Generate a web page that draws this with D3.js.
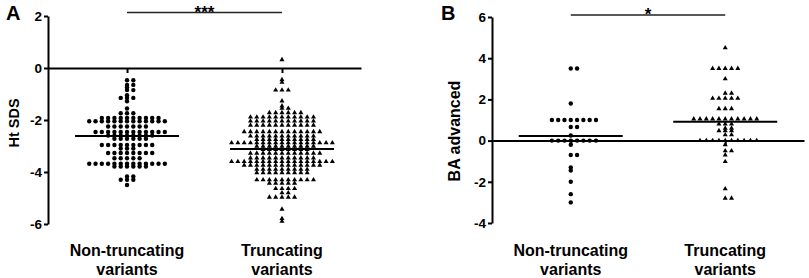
<!DOCTYPE html>
<html>
<head>
<meta charset="utf-8">
<script src="https://cdn.jsdelivr.net/npm/d3@7"></script>
<style>
  body { margin: 0; background: #fff; }
  svg text { font-family: Arial, "Liberation Sans", sans-serif; font-weight: bold; fill: #000; }
</style>
</head>
<body>
<div id="vis"></div>
<script>
const layout = {
    width: 809,
    height: 278,
    dotStep: 6.3,
    dotRadius: 2.2,
    triSize: 11,
    meanHalf: 52,
    labelY1: 256,
    labelY2: 275
};

// categories and tick labels
const categories = ["Non-truncating", "Truncating"];
const categoryLines = [["Non-truncating", "variants"], ["Truncating", "variants"]];
const htTicks = [2, 0, -2, -4, -6];
const baTicks = [6, 4, 2, 0, -2, -4];

// dot rows: [value, number of dots in that row]
const htNonTruncRows = [
    [-0.47, 2], [-0.65, 2], [-0.75, 1], [-0.85, 2], [-1.05, 1], [-1.15, 3], [-1.28, 1],
    [-1.56, 1], [-1.74, 3], [-1.92, 10], [-2.05, 13], [-2.25, 7], [-2.46, 12], [-2.6, 8],
    [-2.72, 6], [-2.96, 9], [-3.1, 3], [-3.27, 8], [-3.47, 5], [-3.68, 13], [-3.79, 6],
    [-4.17, 2], [-4.3, 3], [-4.5, 1]
];
const htTruncRows = [
    [0.32, 1], [-0.45, 1], [-0.55, 1], [-0.85, 3], [-1.27, 1], [-1.46, 1], [-1.55, 2],
    [-1.72, 6], [-1.89, 11], [-2.04, 11], [-2.2, 11], [-2.45, 13], [-2.62, 11], [-2.75, 10],
    [-2.88, 17], [-3.01, 10], [-3.14, 8], [-3.28, 12], [-3.46, 11], [-3.6, 17], [-3.74, 13],
    [-3.9, 9], [-4.03, 9], [-4.3, 10], [-4.43, 5], [-4.64, 4], [-4.8, 2], [-4.97, 5],
    [-5.43, 1], [-5.79, 1], [-5.9, 1]
];
const baNonTruncRows = [
    [3.5, 2], [1.8, 1], [1.0, 8], [0.66, 2], [0.25, 1], [0, 8], [-0.2, 1], [-0.7, 2],
    [-1.3, 1], [-1.45, 1], [-2.0, 1], [-2.6, 1], [-3.0, 1]
];
const baTruncRows = [
    [4.5, 1], [3.5, 5], [3.0, 1], [2.3, 2], [2.05, 5], [1.55, 3], [1.05, 11], [0.8, 3],
    [0.6, 2], [0.48, 3], [0.28, 2], [0, 10], [-0.2, 1], [-0.5, 2], [-0.7, 1], [-1.02, 1],
    [-2.34, 1], [-2.8, 2]
];
const htMeans = [-2.62, -3.12];
const baMeans = [0.22, 0.92];
const sigLabels = ["***", "*"];

const panels = [
    { letter: "A", letterX: 6, axisX: 48, right: 361, yTop: 16, yBottom: 224, domain: [-6, 2],
      ticks: htTicks, yLabel: "Ht SDS", yLabelX: 18.5, yLabelY: 123, yLabelSize: 14.5,
      rows: [htNonTruncRows, htTruncRows], means: htMeans, sig: sigLabels[0], sigY: 12.5 },
    { letter: "B", letterX: 441, axisX: 492, right: 804, yTop: 17, yBottom: 223, domain: [-4, 6],
      ticks: baTicks, yLabel: "BA advanced", yLabelX: 460, yLabelY: 131, yLabelSize: 16,
      rows: [baNonTruncRows, baTruncRows], means: baMeans, sig: sigLabels[1], sigY: 15 }
];

let svg = d3.select("#vis").append("svg")
    .attr("width", layout.width)
    .attr("height", layout.height)
    .attr("viewBox", [0, 0, layout.width, layout.height].join(" "));

// 0, +1, -1, +2, -2 ... like the scatter dot plot layout
function slot(i) {
    return i === 0 ? 0 : (i % 2 === 1 ? (i + 1) / 2 : -i / 2);
}

function drawPanel(p) {
    let yScale = d3.scaleLinear().domain(p.domain).range([p.yBottom, p.yTop]);
    let xScale = d3.scalePoint().domain(categories).range([p.axisX, p.right]).padding(0.51);

    // y axis (plain hyphen for negatives)
    let yAxis = svg.append("g")
        .attr("transform", `translate(${p.axisX},0)`)
        .call(d3.axisLeft(yScale).tickValues(p.ticks).tickSize(4).tickPadding(2)
            .tickSizeOuter(0).tickFormat(d => String(d)));
    yAxis.selectAll("line, .domain").attr("stroke", "#000").attr("stroke-width", 2);
    yAxis.selectAll("text")
        .style("font-size", "13.5px")
        .style("font-weight", "bold")
        .style("font-family", "Arial, 'Liberation Sans', sans-serif")
        .attr("fill", "#000");

    // x axis sits on zero
    let xAxis = svg.append("g")
        .attr("transform", `translate(0,${yScale(0)})`)
        .call(d3.axisBottom(xScale).tickSize(5).tickSizeOuter(0).tickFormat(""));
    xAxis.selectAll("line, .domain").attr("stroke", "#000").attr("stroke-width", 2);

    // points
    p.rows.forEach((rows, ci) => {
        let pts = [];
        rows.forEach(r => {
            for (let i = 0; i < r[1]; i++) pts.push({ v: r[0], k: slot(i) });
        });
        let cx = xScale(categories[ci]);
        let g = svg.append("g");
        if (ci === 0) {
            g.selectAll("circle").data(pts).join("circle")
                .attr("cx", d => cx + d.k * layout.dotStep)
                .attr("cy", d => yScale(d.v))
                .attr("r", layout.dotRadius)
                .attr("fill", "#000");
        } else {
            g.selectAll("path").data(pts).join("path")
                .attr("d", d3.symbol(d3.symbolTriangle, layout.triSize))
                .attr("transform", d => `translate(${cx + d.k * layout.dotStep},${yScale(d.v)})`)
                .attr("fill", "#000");
        }
        // mean line
        svg.append("line")
            .attr("x1", cx - layout.meanHalf).attr("x2", cx + layout.meanHalf)
            .attr("y1", yScale(p.means[ci])).attr("y2", yScale(p.means[ci]))
            .attr("stroke", "#000").attr("stroke-width", 2);
        // category label
        let t = svg.append("text")
            .attr("text-anchor", "middle")
            .attr("font-size", 16);
        t.append("tspan").attr("x", cx).attr("y", layout.labelY1).text(categoryLines[ci][0]);
        t.append("tspan").attr("x", cx).attr("y", layout.labelY2).text(categoryLines[ci][1]);
    });

    // significance bar
    let x0 = xScale(categories[0]), x1 = xScale(categories[1]);
    svg.append("line")
        .attr("x1", x0).attr("x2", x1).attr("y1", p.sigY).attr("y2", p.sigY)
        .attr("stroke", "#222").attr("stroke-width", 1.3);
    svg.append("text")
        .attr("x", (x0 + x1) / 2).attr("y", p.sigY + 5)
        .attr("text-anchor", "middle").attr("font-size", 17)
        .text(p.sig);

    // axis title
    svg.append("text")
        .attr("transform", `translate(${p.yLabelX},${p.yLabelY}) rotate(-90)`)
        .attr("text-anchor", "middle").attr("font-size", p.yLabelSize)
        .text(p.yLabel);

    // panel letter
    svg.append("text")
        .attr("x", p.letterX).attr("y", 20).attr("font-size", 20)
        .text(p.letter);
}

panels.forEach(drawPanel);
</script>
</body>
</html>
